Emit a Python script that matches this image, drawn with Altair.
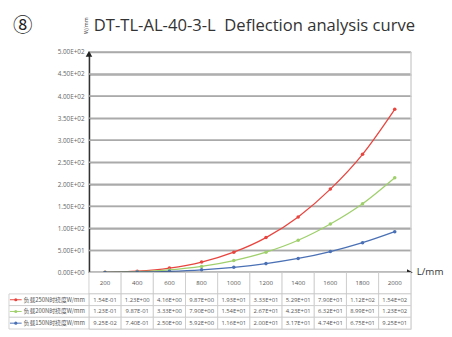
import altair as alt
import pandas as pd

# ---- data ----
lengths = ["200", "400", "600", "800", "1000", "1200", "1400", "1600", "1800", "2000"]
series_names = ["负载250N时挠度W/mm", "负载200N时挠度W/mm", "负载150N时挠度W/mm"]
colors = ["#e8453f", "#9fd06c", "#4a70b5"]

# plotted curve values
red_vals = [0.4, 2.9, 9.9, 23.5, 46, 79, 126, 189, 268, 370]
green_vals = [0.2, 1.7, 5.8, 13.7, 26.9, 46, 73, 110, 156, 215]
blue_vals = [0.09, 0.74, 2.5, 5.9, 11.6, 20.0, 31.7, 47.4, 67.5, 92.5]

# table text (as printed)
red_txt = ["1.54E-01", "1.23E+00", "4.16E+00", "9.87E+00", "1.93E+01", "3.33E+01",
           "5.29E+01", "7.90E+01", "1.12E+02", "1.54E+02"]
green_txt = ["1.23E-01", "9.87E-01", "3.33E+00", "7.90E+00", "1.54E+01", "2.67E+01",
             "4.23E+01", "6.32E+01", "8.99E+01", "1.23E+02"]
blue_txt = ["9.25E-02", "7.40E-01", "2.50E+00", "5.92E+00", "1.16E+01", "2.00E+01",
            "3.17E+01", "4.74E+01", "6.75E+01", "9.25E+01"]

y_ticks = [0, 50, 100, 150, 200, 250, 300, 350, 400, 450, 500]
title_text = "DT-TL-AL-40-3-L\u00a0 Deflection analysis curve"
badge_text = "⑧"
unit_y = "W/mm"
unit_x = "L/mm"

# ---- tables ----
rows = []
for name, vals in zip(series_names, [red_vals, green_vals, blue_vals]):
    for L, v in zip(lengths, vals):
        rows.append({"L": L, "series": name, "value": v})
df = pd.DataFrame(rows)

trows = []
for name, txts in zip(series_names, [red_txt, green_txt, blue_txt]):
    for L, t in zip(lengths, txts):
        trows.append({"L": L, "series": name, "txt": t})
tdf = pd.DataFrame(trows)

W = 330
H = 226
FONT = "Noto Sans CJK SC"

color_enc = alt.Color("series:N", scale=alt.Scale(domain=series_names, range=colors), legend=None)
x_point = alt.X("L:N", sort=lengths, scale=alt.Scale(type="point", padding=0.5), axis=None)
y_scale = alt.Scale(domain=[0, 500], nice=False, zero=True)

label_expr = ("datum.value == 0 ? '0.00E+00' : format(datum.value / pow(10, floor(log(datum.value) / LN10 + 0.000001)), '.2f')"
              " + 'E+0' + floor(log(datum.value) / LN10 + 0.000001)")

y_axis = alt.Axis(values=y_ticks, labelExpr=label_expr, grid=True, gridColor="#aaaaaa",
                  gridWidth=1.5, gridOpacity=1, domainColor="#333333", domainWidth=1.6, ticks=False,
                  labelFontSize=6.5, labelColor="#666666", labelPadding=5, title=None,
                  labelOverlap=False, labelFont="Open Sans")

gdf = pd.DataFrame({"g": y_ticks})
grid = alt.Chart(gdf).mark_rule(color="#aaaaaa", strokeWidth=1.5).encode(
    y=alt.Y("g:Q", scale=y_scale, axis=y_axis))

base = alt.Chart(df)
lines = base.mark_line(interpolate="monotone", strokeWidth=1.3).encode(
    x=x_point, y=alt.Y("value:Q", scale=y_scale, axis=y_axis), color=color_enc)
pts = base.mark_circle(size=13, opacity=1).encode(
    x=x_point, y=alt.Y("value:Q", scale=y_scale, axis=y_axis), color=color_enc)

zero_df = pd.DataFrame({"v": [0], "ux": [unit_x]})
x_axis_line = alt.Chart(zero_df).mark_rule(color="#333333", strokeWidth=1.6).encode(
    y=alt.Y("v:Q", scale=y_scale, axis=y_axis), x=alt.value(0), x2=alt.value(W))
right_border = alt.Chart(zero_df).mark_rule(color="#d0d0d0", strokeWidth=1).encode(
    x=alt.value(W), y=alt.value(0), y2=alt.value(H))
x_arrow = alt.Chart(zero_df).mark_point(shape="triangle-right", filled=True, size=45, color="#222222", opacity=1).encode(
    x=alt.value(W - 1), y=alt.Y("v:Q", scale=y_scale, axis=y_axis))
y_arrow = alt.Chart(zero_df).mark_point(shape="triangle-up", filled=True, size=45, color="#222222", opacity=1).encode(
    x=alt.value(0), y=alt.value(2))
ux_mark = alt.Chart(zero_df).mark_text(align="left", baseline="middle", fontSize=10, color="#333333",
                                       font="Open Sans").encode(
    text="ux:N", x=alt.value(W + 6), y=alt.Y("v:Q", scale=y_scale, axis=y_axis))

txt_df = pd.DataFrame({"title": [title_text], "badge": [badge_text], "uy": [unit_y]})
title_mark = alt.Chart(txt_df).mark_text(align="left", baseline="middle", fontSize=17, color="#333333",
                                         font="Open Sans").encode(
    text="title:N", x=alt.value(5), y=alt.value(-27))
badge_mark = alt.Chart(txt_df).mark_text(align="center", baseline="middle", fontSize=20, color="#222222").encode(
    text="badge:N", x=alt.value(-68), y=alt.value(-26))
uy_mark = alt.Chart(txt_df).mark_text(align="center", baseline="middle", fontSize=5.5, angle=270, color="#555555").encode(
    text="uy:N", x=alt.value(-3), y=alt.value(-27))

top = alt.layer(grid, lines, pts, x_axis_line, right_border, x_arrow, y_arrow,
                title_mark, badge_mark, uy_mark, ux_mark).properties(width=W, height=H)

# ---- header row ----
x_band = alt.X("L:N", sort=lengths, scale=alt.Scale(type="band", paddingInner=0, paddingOuter=0), axis=None)
hdr_df = pd.DataFrame({"L": lengths})
hdr_cells = alt.Chart(hdr_df).mark_rect(fill="white", stroke="#c8c8c8", strokeWidth=0.8).encode(
    x=x_band, y=alt.value(0), y2=alt.value(22))
hdr_text = alt.Chart(hdr_df).mark_text(fontSize=6.3, color="#555555", font="Open Sans").encode(x=x_band, text="L:N")
header = alt.layer(hdr_cells, hdr_text).properties(width=W, height=22)

# ---- data table ----
y_band = alt.Y("series:N", sort=series_names, scale=alt.Scale(type="band", paddingInner=0, paddingOuter=0), axis=None)
cells = alt.Chart(tdf).mark_rect(fill="white", stroke="#c8c8c8", strokeWidth=0.8).encode(x=x_band, y=y_band)
cell_text = alt.Chart(tdf).mark_text(fontSize=6, color="#555555", font="Open Sans").encode(
    x=x_band, y=y_band, text="txt:N")
lab_df = pd.DataFrame({"series": series_names})
lab_cells = alt.Chart(lab_df).mark_rect(fill="white", stroke="#c8c8c8", strokeWidth=0.8).encode(
    x=alt.value(-82), x2=alt.value(0), y=y_band)
lab_text = alt.Chart(lab_df).mark_text(align="left", fontSize=6, color="#555555").encode(
    x=alt.value(-67), y=y_band, text="series:N")
lab_rule = alt.Chart(lab_df).mark_rule(strokeWidth=1).encode(
    x=alt.value(-81), x2=alt.value(-69), y=y_band, color=color_enc)
lab_pt = alt.Chart(lab_df).mark_circle(size=10, opacity=1).encode(x=alt.value(-75), y=y_band, color=color_enc)
table = alt.layer(cells, cell_text, lab_cells, lab_rule, lab_pt, lab_text).properties(width=W, height=36)

chart = alt.vconcat(top, header, table, spacing=0, bounds="flush").properties(
    padding={"left": 0, "top": 4, "right": 0, "bottom": 0}
).configure_view(stroke=None).configure(font=FONT)

chart.save("out.html", embed_options={"renderer": "svg", "actions": False})
